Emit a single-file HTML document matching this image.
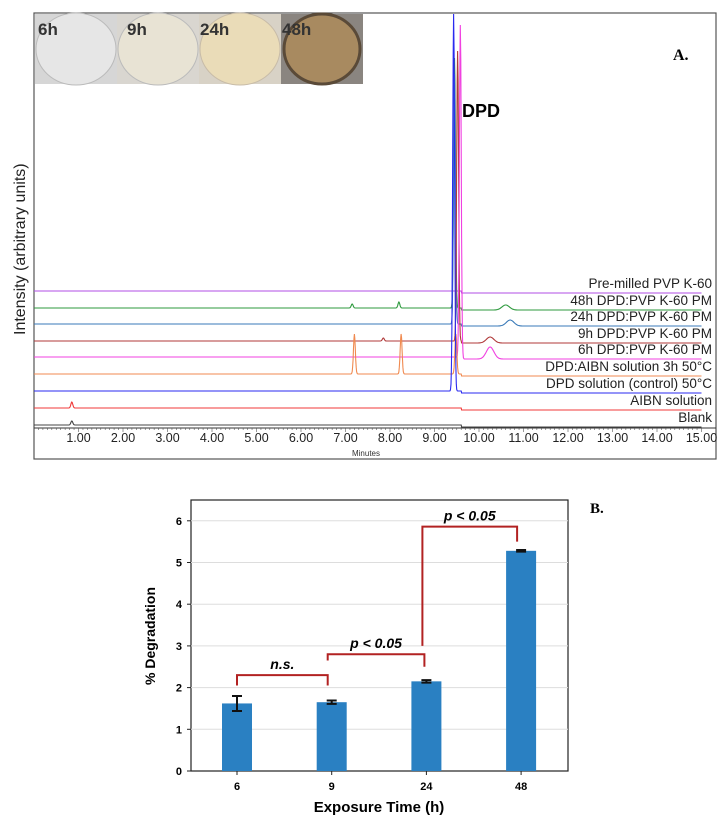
<!DOCTYPE html>
<html><head><meta charset="utf-8"><style>
body{margin:0;background:#fff;width:728px;height:825px;overflow:hidden;font-family:"Liberation Sans",sans-serif}
svg{position:absolute;left:0;top:0}
</style></head><body>
<svg width="728" height="825">
<g id="panelA">
<rect x="34" y="13" width="682" height="446" fill="#fff" stroke="#555" stroke-width="1.2"/>
<g>
<rect x="35" y="14" width="82" height="70" fill="#d6d6d6"/><ellipse cx="76" cy="49" rx="40" ry="36" fill="#e6e6e6" stroke="#bbb"/>
<rect x="117" y="14" width="82" height="70" fill="#d9d6d0"/><ellipse cx="158" cy="49" rx="40" ry="36" fill="#e8e3d4" stroke="#bbb"/>
<rect x="199" y="14" width="82" height="70" fill="#d8d2c6"/><ellipse cx="240" cy="49" rx="40" ry="36" fill="#eadcb8" stroke="#c8bca8"/>
<rect x="281" y="14" width="82" height="70" fill="#8a8580"/><ellipse cx="322" cy="49" rx="38" ry="35" fill="#a88a60" stroke="#5a4a38" stroke-width="3"/>
<text x="38" y="35" font-size="17" font-weight="bold" fill="#333">6h</text>
<text x="127" y="35" font-size="17" font-weight="bold" fill="#333">9h</text>
<text x="200" y="35" font-size="17" font-weight="bold" fill="#333">24h</text>
<text x="282" y="35" font-size="17" font-weight="bold" fill="#333">48h</text>
</g>
<text x="673" y="60" font-family="Liberation Serif,serif" font-weight="bold" font-size="16">A.</text>
<text x="462" y="117" font-size="18" font-weight="bold">DPD</text>
<text transform="translate(25,335) rotate(-90)" font-size="16" fill="#222">Intensity (arbitrary units)</text>
<line x1="34" y1="428" x2="716" y2="428" stroke="#333"/>
<g id="ticksA"></g>
<text x="366" y="456" text-anchor="middle" font-size="8" fill="#333">Minutes</text>
<g id="traces"></g>
</g>
<g id="panelB">
<text x="590" y="513" font-family="Liberation Serif,serif" font-weight="bold" font-size="15">B.</text>
<text transform="translate(155,636) rotate(-90)" text-anchor="middle" font-size="14" font-weight="bold">% Degradation</text>
<text x="379" y="812" text-anchor="middle" font-size="15" font-weight="bold">Exposure Time (h)</text>
<g id="barsB"></g>
</g>
</svg>
<script>
const NS="http://www.w3.org/2000/svg";
function mk(tag,attrs,parent){const e=document.createElementNS(NS,tag);for(const k in attrs)e.setAttribute(k,attrs[k]);parent.appendChild(e);return e;}
// ---- Panel A data ----
const traceNames=["Pre-milled PVP K-60","48h DPD:PVP K-60 PM","24h DPD:PVP K-60 PM","9h DPD:PVP K-60 PM","6h DPD:PVP K-60 PM","DPD:AIBN solution 3h 50°C","DPD solution (control) 50°C","AIBN solution","Blank"];
const traceColors=["#b04ee6","#2e9a3e","#3a7ab8","#b03a3a","#f040e0","#f08a50","#2a2af0","#f03a3a","#444"];
const traceBaselines=[291,308,324,341,357,374,391,408,425];
const tracePeakTimes=[[],[9.45,8.2,7.15,10.6],[9.45,10.7],[9.52,10.25,7.85],[9.58,10.25],[9.48,7.2,8.25],[9.43],[0.85],[0.85]];
const tracePeakHeights=[[],[250,6,4,5],[250,6],[290,6,3],[332,12],[40,40,40],[377],[6],[4]];
const minutesTicks=["1.00","2.00","3.00","4.00","5.00","6.00","7.00","8.00","9.00","10.00","11.00","12.00","13.00","14.00","15.00"];
const xA=t=>34+44.5*t;
const tk=document.getElementById('ticksA');
for(let i=0;i<=150;i++){const t=i/10;mk('line',{x1:xA(t),x2:xA(t),y1:428,y2:428+(i%10==0?4:2),stroke:'#555','stroke-width':0.6},tk);}
minutesTicks.forEach(s=>{const el=mk('text',{x:xA(parseFloat(s)),y:442,'text-anchor':'middle','font-size':'12.5',fill:'#222'},tk);el.textContent=s;

});
const tr=document.getElementById('traces');
traceNames.forEach((n,i)=>{
  const b=traceBaselines[i];let d='';
  for(let t=0;t<=15;t+=0.01){let y=b;
    tracePeakTimes[i].forEach((p,j)=>{const w=p>9&&p<10&&tracePeakHeights[i][j]>100?0.03:(p>10?0.12:0.03);y-=tracePeakHeights[i][j]*Math.exp(-Math.pow((t-p)/w,2));});
    if(t>9.6)y+=2;
    d+=(d?'L':'M')+xA(t).toFixed(1)+','+y.toFixed(1);}
  const p=mk('path',{d:d,fill:'none',stroke:traceColors[i],'stroke-width':1.1},tr);
  
  
  const l=mk('text',{x:712,y:b-3,'text-anchor':'end','font-size':'13.5',fill:'#222'},tr);l.textContent=n;
  
  
});
// ---- Panel B data ----
const categories=["6","9","24","48"];
const values=[1.62,1.65,2.15,5.28];
const errors=[0.18,0.04,0.03,0.02];
const yTicks=[0,1,2,3,4,5,6];
const g=document.getElementById('barsB');
const L=191,R=568,T=500,B=771;
const yB=v=>B-v*41.7;
const xB=i=>237+i*94.7;
mk('rect',{x:L,y:T,width:R-L,height:B-T,fill:'#fff',stroke:'#222','stroke-width':1.2},g);
yTicks.forEach(v=>{if(v>0)mk('line',{x1:L,x2:R,y1:yB(v),y2:yB(v),stroke:'#ddd'},g);
 mk('line',{x1:L-4,x2:L,y1:yB(v),y2:yB(v),stroke:'#222'},g);
 const t=mk('text',{x:L-9,y:yB(v)+4,'text-anchor':'end','font-size':'11','font-weight':'bold'},g);t.textContent=v;
 
 });
categories.forEach((c,i)=>{
 const r=mk('rect',{x:xB(i)-15,y:yB(values[i]),width:30,height:B-yB(values[i]),fill:'#2a80c2'},g);
 
 
 const e1=yB(values[i]+errors[i]),e2=yB(values[i]-errors[i]);
 const eb=mk('path',{d:`M${xB(i)},${e1}V${e2}M${xB(i)-5},${e1}H${xB(i)+5}M${xB(i)-5},${e2}H${xB(i)+5}`,stroke:'#111','stroke-width':2,fill:'none'},g);
 
 
 mk('line',{x1:xB(i),x2:xB(i),y1:B,y2:B+4,stroke:'#222'},g);
 const t=mk('text',{x:xB(i),y:790,'text-anchor':'middle','font-size':'11','font-weight':'bold'},g);t.textContent=c;
 
 
});
const brackets=[[0,1,2.3,2.05,2.05,"n.s."],[1,2,2.8,2.65,2.5,"p < 0.05"],[2,3,5.86,3.0,5.5,"p < 0.05"]];
brackets.forEach((b,k)=>{const x1=xB(b[0])-(k==0?0:4),x2=xB(b[1])-(k==1?2:4),yt=yB(b[2]);
 const p=mk('path',{d:`M${x1},${yB(b[3])}V${yt}H${x2}V${yB(b[4])}`,stroke:'#b22222','stroke-width':2,fill:'none'},g);
 
 
 const t=mk('text',{x:(x1+x2)/2,y:yt-6,'text-anchor':'middle','font-size':'14','font-weight':'bold','font-style':'italic'},g);t.textContent=b[5];
 
 });
</script>
</body></html>
